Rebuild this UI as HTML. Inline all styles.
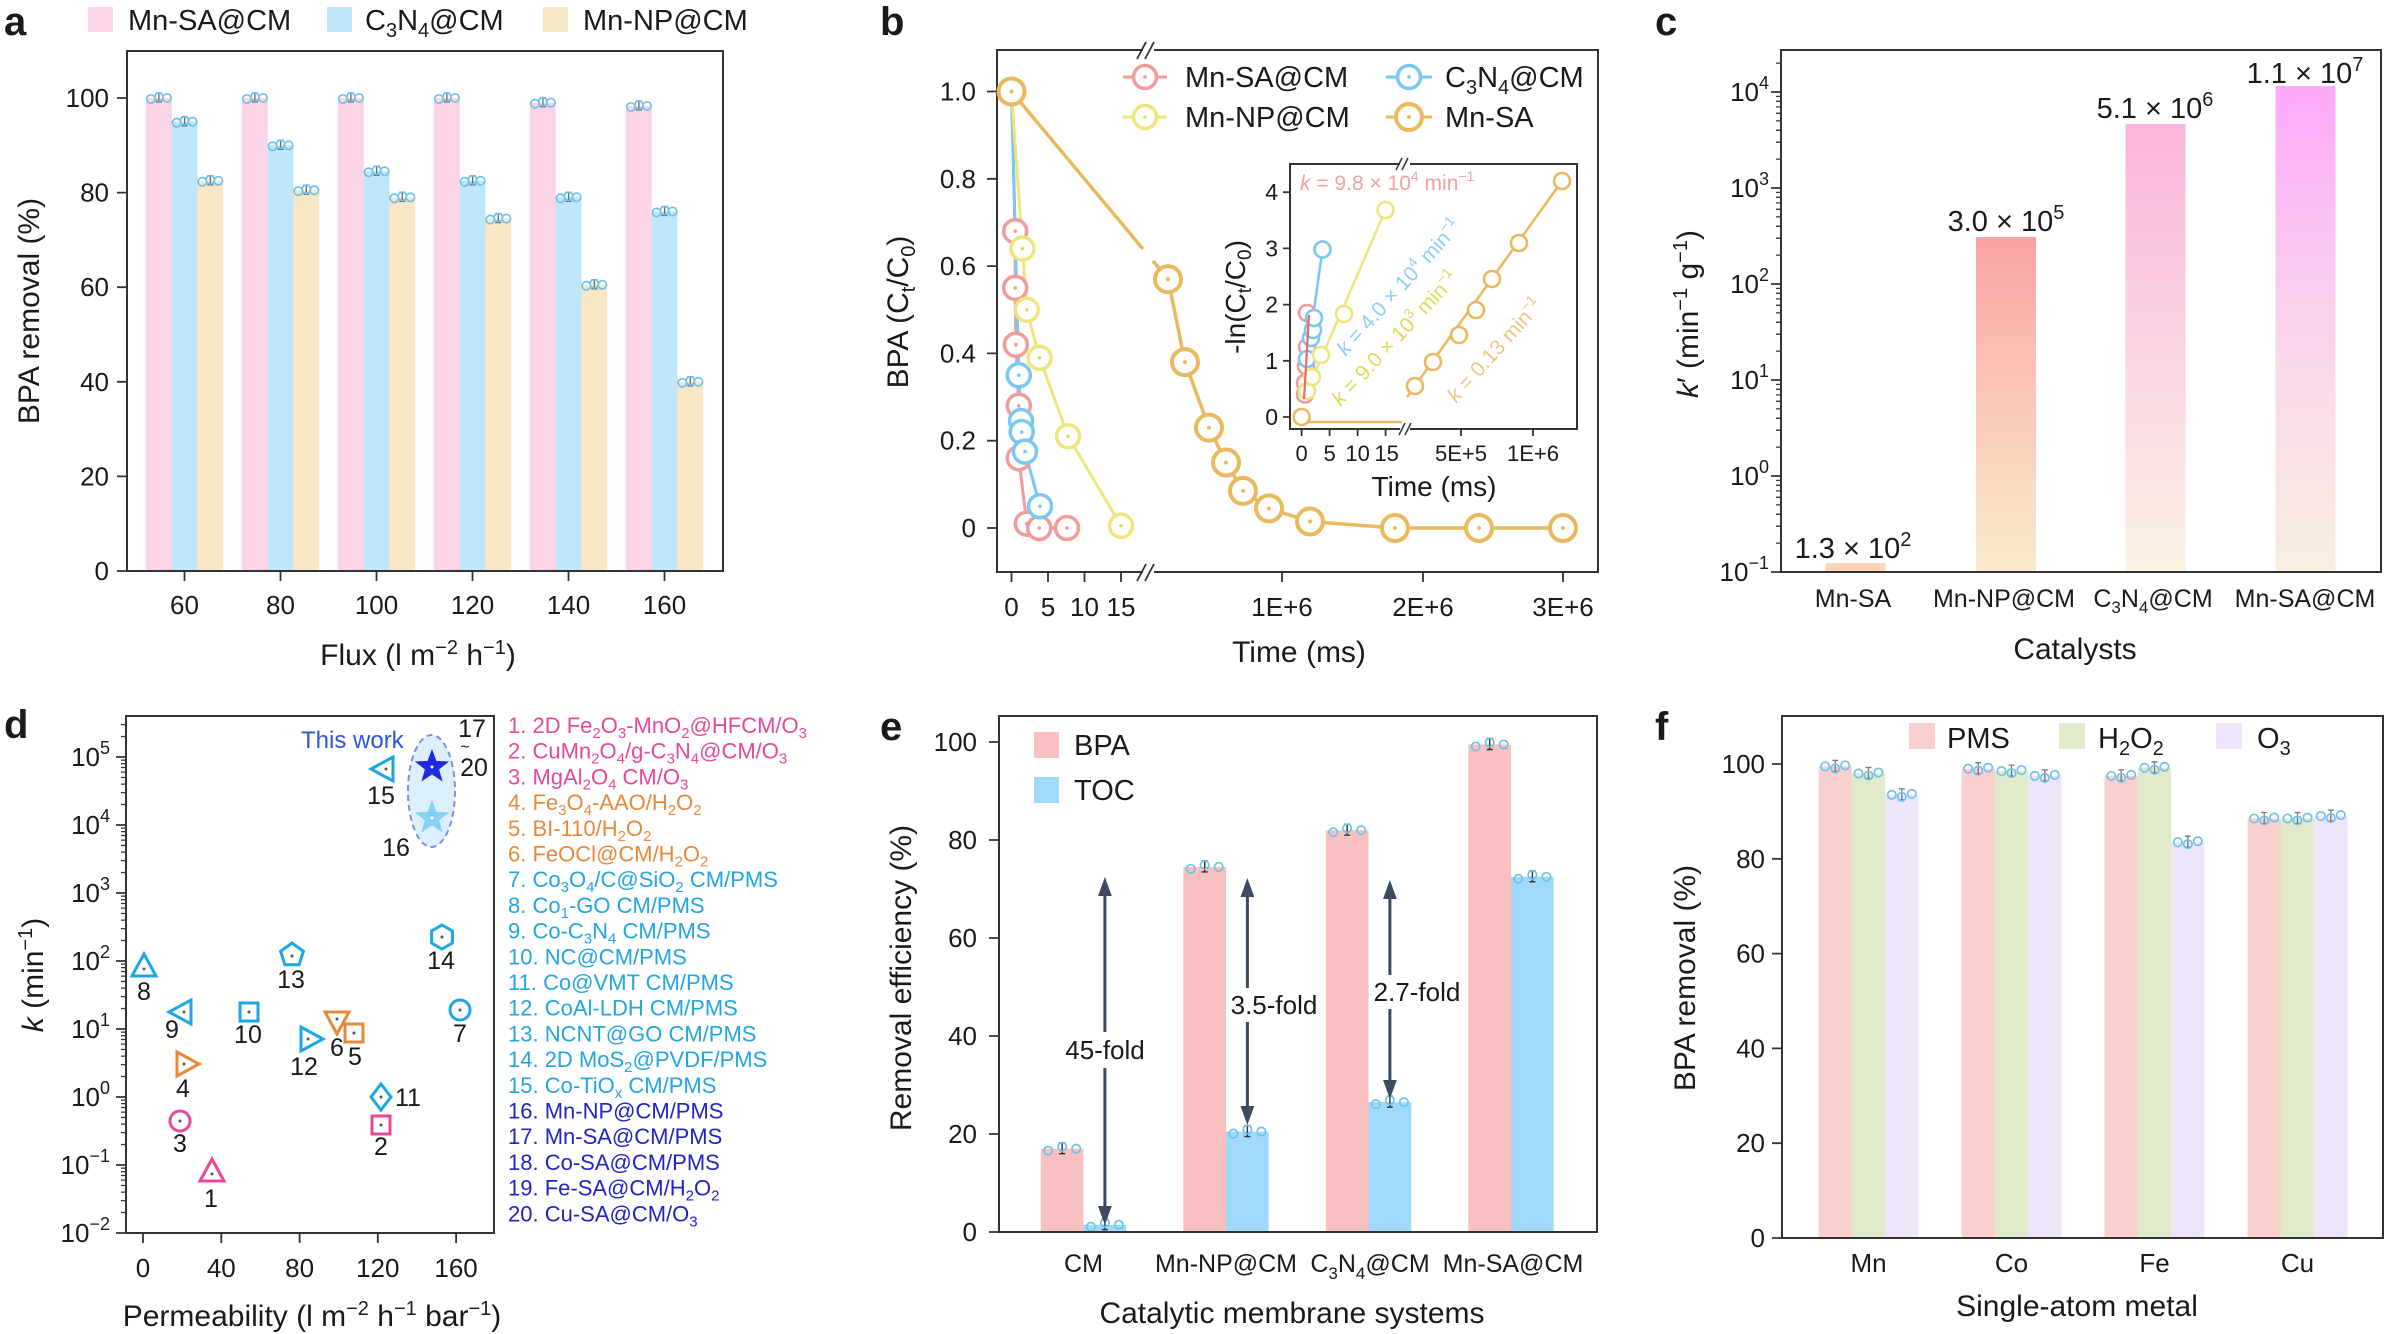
<!DOCTYPE html>
<html><head><meta charset="utf-8">
<style>
html,body{margin:0;padding:0;background:#fff}
svg{display:block}
text{font-family:"Liberation Sans",Arial,sans-serif;fill:#1a1a1a}
.t{font-size:26px}
.ti{font-size:30px}
.lg{font-size:29px}
.pl{font-size:40px;font-weight:bold}
.ax{fill:none;stroke:#333;stroke-width:2}
.tk{fill:none;stroke:#333;stroke-width:1.8}
</style></head><body>
<svg width="2394" height="1334" viewBox="0 0 2394 1334" xmlns="http://www.w3.org/2000/svg">
<defs>
<g id="da" fill="none" stroke="#6DC2EE" stroke-width="1.7"><path d="M0,-5V4M-3,-5H3M-3,4H3" stroke="#666" stroke-width="1.3"/><circle cx="-8" cy="1" r="4.2"/><circle cx="0" cy="-1" r="4.2"/><circle cx="8" cy="0" r="4.2"/></g>
<g id="de" fill="none" stroke="#6DC2EE" stroke-width="1.7"><path d="M0,-6V5M-3,-6H3M-3,5H3" stroke="#333" stroke-width="1.4"/><circle cx="-14" cy="2" r="4.2"/><circle cx="0" cy="-2" r="4.2"/><circle cx="14" cy="0" r="4.2"/></g>
<g id="df" fill="none" stroke="#6DC2EE" stroke-width="1.7"><path d="M0,-6V5M-3,-6H3M-3,5H3" stroke="#777" stroke-width="1.3"/><circle cx="-10" cy="0" r="4.2"/><circle cx="0" cy="2" r="4.2"/><circle cx="10" cy="-1" r="4.2"/></g>
<g id="mR"><circle r="11.5" fill="#fff" stroke="#F39A9A" stroke-width="3.5"/><circle r="1.8" fill="#F39A9A"/></g>
<g id="mB"><circle r="11.5" fill="#fff" stroke="#78C8F2" stroke-width="3.5"/><circle r="1.8" fill="#78C8F2"/></g>
<g id="mY"><circle r="11.5" fill="#fff" stroke="#EFE57F" stroke-width="3.5"/><circle r="1.8" fill="#E2D660"/></g>
<g id="mG"><circle r="13" fill="#fff" stroke="#EAB95E" stroke-width="4"/><circle r="2" fill="#EAB95E"/></g>
<g id="iR"><circle r="8" fill="#fff" stroke="#F39A9A" stroke-width="2.6"/></g>
<g id="iB"><circle r="8" fill="#fff" stroke="#78C8F2" stroke-width="2.6"/></g>
<g id="iY"><circle r="8" fill="#fff" stroke="#EFE57F" stroke-width="2.6"/></g>
<g id="iG"><circle r="8" fill="#fff" stroke="#EAB95E" stroke-width="2.6"/></g>
<linearGradient id="g1" x1="0" y1="0" x2="0" y2="1"><stop offset="0" stop-color="#F9A2A2"/><stop offset="0.4" stop-color="#FBC2B4"/><stop offset="1" stop-color="#F8EBC9"/></linearGradient>
<linearGradient id="g2" x1="0" y1="0" x2="0" y2="1"><stop offset="0" stop-color="#FAB4DC"/><stop offset="0.5" stop-color="#FAD3E2"/><stop offset="1" stop-color="#FAF2E2"/></linearGradient>
<linearGradient id="g3" x1="0" y1="0" x2="0" y2="1"><stop offset="0" stop-color="#FCA8F9"/><stop offset="0.45" stop-color="#F9D0EE"/><stop offset="1" stop-color="#F9EFE0"/></linearGradient>
</defs>

<!-- ================= PANEL A ================= -->
<text class="pl" x="4" y="35">a</text>
<rect x="88" y="7" width="25" height="25" fill="#FDD3E8"/>
<text class="lg" x="128" y="30">Mn-SA@CM</text>
<rect x="327" y="7" width="25" height="25" fill="#BFE6FB"/>
<text class="lg" x="365" y="30">C<tspan dy="7" font-size="20">3</tspan><tspan dy="-7">N</tspan><tspan dy="7" font-size="20">4</tspan><tspan dy="-7">@CM</tspan></text>
<rect x="543" y="7" width="25" height="25" fill="#F6E7C6"/>
<text class="lg" x="583" y="30">Mn-NP@CM</text>
<g fill="#FDD3E8">
<rect x="146" y="98" width="25.8" height="473"/><rect x="242" y="98" width="25.8" height="473"/><rect x="338" y="98" width="25.8" height="473"/><rect x="434" y="98" width="25.8" height="473"/><rect x="530" y="102.7" width="25.8" height="468.3"/><rect x="626" y="106" width="25.8" height="465"/>
</g>
<g fill="#BFE6FB">
<rect x="171.7" y="121.7" width="25.8" height="449.3"/><rect x="267.7" y="145.3" width="25.8" height="425.7"/><rect x="363.7" y="171.3" width="25.8" height="399.7"/><rect x="459.7" y="180.8" width="25.8" height="390.2"/><rect x="555.7" y="197.3" width="25.8" height="373.7"/><rect x="651.7" y="211.5" width="25.8" height="359.5"/>
</g>
<g fill="#F6E7C6">
<rect x="197.4" y="180.8" width="25.8" height="390.2"/><rect x="293.4" y="190.2" width="25.8" height="380.8"/><rect x="389.4" y="197.3" width="25.8" height="373.7"/><rect x="485.4" y="218.6" width="25.8" height="352.4"/><rect x="581.4" y="284.8" width="25.8" height="286.2"/><rect x="677.4" y="381.8" width="25.8" height="189.2"/>
</g>
<use href="#da" x="158.9" y="98"/><use href="#da" x="254.9" y="98"/><use href="#da" x="350.9" y="98"/><use href="#da" x="446.9" y="98"/><use href="#da" x="542.9" y="102.7"/><use href="#da" x="638.9" y="106"/>
<use href="#da" x="184.6" y="121.7"/><use href="#da" x="280.6" y="145.3"/><use href="#da" x="376.6" y="171.3"/><use href="#da" x="472.6" y="180.8"/><use href="#da" x="568.6" y="197.3"/><use href="#da" x="664.6" y="211.5"/>
<use href="#da" x="210.3" y="180.8"/><use href="#da" x="306.3" y="190.2"/><use href="#da" x="402.3" y="197.3"/><use href="#da" x="498.3" y="218.6"/><use href="#da" x="594.3" y="284.8"/><use href="#da" x="690.3" y="381.8"/>
<rect class="ax" x="127" y="51" width="596" height="520"/>
<path class="tk" d="M117,571H127M117,476.4H127M117,381.8H127M117,287.2H127M117,192.6H127M117,98H127M184.5,571V581M280.5,571V581M376.5,571V581M472.5,571V581M568.5,571V581M664.5,571V581"/>
<g class="t" text-anchor="end">
<text x="109" y="580">0</text><text x="109" y="485.4">20</text><text x="109" y="390.8">40</text><text x="109" y="296.2">60</text><text x="109" y="201.6">80</text><text x="109" y="107">100</text>
</g>
<g class="t" text-anchor="middle">
<text x="184.5" y="614">60</text><text x="280.5" y="614">80</text><text x="376.5" y="614">100</text><text x="472.5" y="614">120</text><text x="568.5" y="614">140</text><text x="664.5" y="614">160</text>
</g>
<text class="ti" text-anchor="middle" transform="translate(39,311) rotate(-90)">BPA removal (%)</text>
<text class="ti" text-anchor="middle" x="418" y="665">Flux (l m<tspan dy="-11" font-size="20">−2</tspan><tspan dy="11"> h</tspan><tspan dy="-11" font-size="20">−1</tspan><tspan dy="11">)</tspan></text>

<!-- ================= PANEL B ================= -->
<text class="pl" x="880" y="35">b</text>
<rect class="ax" x="997" y="50" width="601" height="522"/>
<rect x="1143" y="44" width="11" height="12" fill="#fff"/>
<rect x="1143" y="566" width="11" height="12" fill="#fff"/>
<path d="M1137,59L1146,42M1145,59L1154,42M1137,581L1146,564M1145,581L1154,564" stroke="#333" stroke-width="1.8" fill="none"/>
<path class="tk" d="M987,528H997M987,440.7H997M987,353.4H997M987,266.1H997M987,178.8H997M987,91.5H997M1011.5,572V582M1048,572V582M1084.5,572V582M1121,572V582M1282,572V582M1423,572V582M1563,572V582"/>
<g class="t" text-anchor="end">
<text x="976" y="537">0</text><text x="976" y="449.7">0.2</text><text x="976" y="362.4">0.4</text><text x="976" y="275.1">0.6</text><text x="976" y="187.8">0.8</text><text x="976" y="100.5">1.0</text>
</g>
<g class="t" text-anchor="middle">
<text x="1011.5" y="616">0</text><text x="1048" y="616">5</text><text x="1084.5" y="616">10</text><text x="1121" y="616">15</text><text x="1282" y="616">1E+6</text><text x="1423" y="616">2E+6</text><text x="1563" y="616">3E+6</text>
</g>
<text class="ti" text-anchor="middle" x="1299" y="662">Time (ms)</text>
<text class="ti" text-anchor="middle" transform="translate(908,312) rotate(-90)">BPA (C<tspan dy="7" font-size="20">t</tspan><tspan dy="-7">/C</tspan><tspan dy="7" font-size="20">0</tspan><tspan dy="-7">)</tspan></text>
<polyline fill="none" stroke="#F39A9A" stroke-width="3" points="1011.5,91.5 1015.2,231.2 1015.2,287.9 1015.9,344.7 1018.8,405.8 1018.8,458.2 1026.8,523.6 1039.2,528 1067,528"/>
<polyline fill="none" stroke="#78C8F2" stroke-width="3" points="1011.5,91.5 1018.8,375.2 1021,421 1021.7,432 1025,451.6 1040,506.2"/>
<polyline fill="none" stroke="#EFE57F" stroke-width="3" points="1011.5,91.5 1022.5,248.6 1026.8,309.8 1039.6,357.8 1068.1,436.3 1121,525.8"/>
<polyline fill="none" stroke="#EAB95E" stroke-width="3.5" points="1011.5,91.5 1143,249"/>
<polyline fill="none" stroke="#EAB95E" stroke-width="3.5" points="1153,261 1168,279.2 1185,362.1 1209,427.6 1226,462.5 1243,490.9 1269,508.4 1310,521.5 1395,528 1479,528 1563,528"/>
<use href="#mR" x="1015.2" y="231.2"/><use href="#mR" x="1015.2" y="287.9"/><use href="#mR" x="1015.9" y="344.7"/><use href="#mR" x="1018.8" y="405.8"/><use href="#mR" x="1018.8" y="458.2"/><use href="#mR" x="1026.8" y="523.6"/><use href="#mR" x="1039.2" y="528"/><use href="#mR" x="1067" y="528"/>
<use href="#mB" x="1018.8" y="375.2"/><use href="#mB" x="1021" y="421"/><use href="#mB" x="1021.7" y="432"/><use href="#mB" x="1025" y="451.6"/><use href="#mB" x="1040" y="506.2"/>
<use href="#mY" x="1022.5" y="248.6"/><use href="#mY" x="1026.8" y="309.8"/><use href="#mY" x="1039.6" y="357.8"/><use href="#mY" x="1068.1" y="436.3"/><use href="#mY" x="1121" y="525.8"/>
<use href="#mG" x="1011.5" y="91.5"/><use href="#mG" x="1168" y="279.2"/><use href="#mG" x="1185" y="362.1"/><use href="#mG" x="1209" y="427.6"/><use href="#mG" x="1226" y="462.5"/><use href="#mG" x="1243" y="490.9"/><use href="#mG" x="1269" y="508.4"/><use href="#mG" x="1310" y="521.5"/><use href="#mG" x="1395" y="528"/><use href="#mG" x="1479" y="528"/><use href="#mG" x="1563" y="528"/>
<path d="M1123,77H1167" stroke="#F39A9A" stroke-width="3"/><use href="#mR" x="1145" y="77"/>
<text class="lg" x="1185" y="87">Mn-SA@CM</text>
<path d="M1386,77H1432" stroke="#78C8F2" stroke-width="3"/><use href="#mB" x="1409" y="77"/>
<text class="lg" x="1445" y="87">C<tspan dy="7" font-size="20">3</tspan><tspan dy="-7">N</tspan><tspan dy="7" font-size="20">4</tspan><tspan dy="-7">@CM</tspan></text>
<path d="M1123,117H1167" stroke="#EFE57F" stroke-width="3"/><use href="#mY" x="1145" y="117"/>
<text class="lg" x="1185" y="127">Mn-NP@CM</text>
<path d="M1386,117H1432" stroke="#EAB95E" stroke-width="3"/><use href="#mG" x="1409" y="117"/>
<text class="lg" x="1445" y="127">Mn-SA</text>
<!-- inset -->
<rect x="1290" y="164" width="287" height="265" fill="#fff" stroke="#333" stroke-width="2"/>
<rect x="1400" y="160" width="10" height="8" fill="#fff"/>
<rect x="1400" y="425" width="10" height="8" fill="#fff"/>
<path d="M1396,170L1402,158M1402,170L1408,158M1399,435L1405,423M1405,435L1411,423" stroke="#333" stroke-width="1.5" fill="none"/>
<path class="tk" d="M1283,417H1290M1283,360.8H1290M1283,304.6H1290M1283,248.4H1290M1283,192.2H1290M1301.6,429V436M1329.6,429V436M1357.6,429V436M1385.6,429V436M1461,429V436M1533,429V436"/>
<g font-size="23" text-anchor="end">
<text x="1278" y="425">0</text><text x="1278" y="368.8">1</text><text x="1278" y="312.6">2</text><text x="1278" y="256.4">3</text><text x="1278" y="200.2">4</text>
</g>
<g font-size="22" text-anchor="middle">
<text x="1301.6" y="461">0</text><text x="1329.6" y="461">5</text><text x="1357.6" y="461">10</text><text x="1386.6" y="461">15</text><text x="1461" y="461">5E+5</text><text x="1533" y="461">1E+6</text>
</g>
<text font-size="28" text-anchor="middle" x="1434" y="496">Time (ms)</text>
<text font-size="28" text-anchor="middle" transform="translate(1245,297) rotate(-90)">-ln(C<tspan dy="6" font-size="19">t</tspan><tspan dy="-6">/C</tspan><tspan dy="6" font-size="19">0</tspan><tspan dy="-6">)</tspan></text>
<path d="M1301,422H1402" stroke="#EAB95E" stroke-width="2.6"/>
<path d="M1407,397L1562,181" stroke="#EAB95E" stroke-width="2.6"/>
<path d="M1307,391L1385.5,210" stroke="#EFE57F" stroke-width="2.6"/>
<path d="M1307,359L1322.5,249.5" stroke="#78C8F2" stroke-width="2.6"/>
<use href="#iG" x="1301.6" y="417"/>
<use href="#iR" x="1305" y="394.5"/><use href="#iR" x="1305" y="383"/><use href="#iR" x="1306" y="366"/><use href="#iR" x="1307" y="347"/><use href="#iR" x="1307" y="313"/>
<use href="#iB" x="1307" y="359"/><use href="#iB" x="1311" y="338"/><use href="#iB" x="1313" y="330"/><use href="#iB" x="1314" y="318"/><use href="#iB" x="1322.5" y="249.5"/>
<use href="#iY" x="1307" y="391"/><use href="#iY" x="1312" y="377"/><use href="#iY" x="1321" y="355"/><use href="#iY" x="1344" y="314"/><use href="#iY" x="1385.5" y="210"/>
<path d="M1304,399L1309,315" stroke="#E86A6A" stroke-width="2.2"/>
<use href="#iG" x="1415" y="386"/><use href="#iG" x="1433" y="362"/><use href="#iG" x="1459" y="335"/><use href="#iG" x="1476" y="310"/><use href="#iG" x="1492" y="279"/><use href="#iG" x="1519" y="243"/><use href="#iG" x="1562" y="181"/>
<text font-size="21" x="1300" y="190" style="fill:#F2A0A0"><tspan font-style="italic">k</tspan> = 9.8 × 10<tspan dy="-9" font-size="14">4</tspan><tspan dy="9"> min</tspan><tspan dy="-9" font-size="14">−1</tspan></text>
<text font-size="21" text-anchor="middle" transform="translate(1404,292) rotate(-48)" style="fill:#8CCFF2"><tspan font-style="italic">k</tspan> = 4.0 × 10<tspan dy="-9" font-size="14">4</tspan><tspan dy="9"> min</tspan><tspan dy="-9" font-size="14">−1</tspan></text>
<text font-size="21" text-anchor="middle" transform="translate(1400,343) rotate(-47)" style="fill:#E0D955"><tspan font-style="italic">k</tspan> = 9.0 × 10<tspan dy="-9" font-size="14">3</tspan><tspan dy="9"> min</tspan><tspan dy="-9" font-size="14">−1</tspan></text>
<text font-size="21" text-anchor="middle" transform="translate(1500,355) rotate(-48)" style="fill:#EDC580"><tspan font-style="italic">k</tspan> = 0.13 min<tspan dy="-9" font-size="14">−1</tspan></text>

<!-- ================= PANEL C ================= -->
<text class="pl" x="1655" y="35">c</text>
<rect x="1825.5" y="563" width="60" height="9" fill="#F9D4B8"/>
<rect x="1976" y="237" width="60" height="335" fill="url(#g1)"/>
<rect x="2125.5" y="124" width="60" height="448" fill="url(#g2)"/>
<rect x="2275.5" y="86" width="60" height="486" fill="url(#g3)"/>
<rect class="ax" x="1781" y="50" width="600" height="522"/>
<path class="tk" d="M1771,572H1781M1771,476H1781M1771,380H1781M1771,284H1781M1771,188H1781M1771,92H1781"/>
<path fill="none" stroke="#333" stroke-width="1.3" d="M1776,543.1H1781M1776,526.2H1781M1776,514.2H1781M1776,504.9H1781M1776,497.3H1781M1776,490.9H1781M1776,485.3H1781M1776,480.4H1781M1776,447.1H1781M1776,430.2H1781M1776,418.2H1781M1776,408.9H1781M1776,401.3H1781M1776,394.9H1781M1776,389.3H1781M1776,384.4H1781M1776,351.1H1781M1776,334.2H1781M1776,322.2H1781M1776,312.9H1781M1776,305.3H1781M1776,298.9H1781M1776,293.3H1781M1776,288.4H1781M1776,255.1H1781M1776,238.2H1781M1776,226.2H1781M1776,216.9H1781M1776,209.3H1781M1776,202.9H1781M1776,197.3H1781M1776,192.4H1781M1776,159.1H1781M1776,142.2H1781M1776,130.2H1781M1776,120.9H1781M1776,113.3H1781M1776,106.9H1781M1776,101.3H1781M1776,96.4H1781M1776,63.1H1781"/>
<g class="t" text-anchor="end">
<text x="1769" y="581">10<tspan dy="-12" font-size="18">−1</tspan></text>
<text x="1769" y="485">10<tspan dy="-12" font-size="18">0</tspan></text>
<text x="1769" y="389">10<tspan dy="-12" font-size="18">1</tspan></text>
<text x="1769" y="293">10<tspan dy="-12" font-size="18">2</tspan></text>
<text x="1769" y="197">10<tspan dy="-12" font-size="18">3</tspan></text>
<text x="1769" y="101">10<tspan dy="-12" font-size="18">4</tspan></text>
</g>
<g font-size="29" text-anchor="middle">
<text x="1853" y="558">1.3 × 10<tspan dy="-12" font-size="20">2</tspan></text>
<text x="2006" y="231">3.0 × 10<tspan dy="-12" font-size="20">5</tspan></text>
<text x="2155" y="118">5.1 × 10<tspan dy="-12" font-size="20">6</tspan></text>
<text x="2305" y="83">1.1 × 10<tspan dy="-12" font-size="20">7</tspan></text>
</g>
<g font-size="25" text-anchor="middle">
<text x="1853" y="607">Mn-SA</text>
<text x="2004" y="607">Mn-NP@CM</text>
<text x="2153" y="607">C<tspan dy="6" font-size="17">3</tspan><tspan dy="-6">N</tspan><tspan dy="6" font-size="17">4</tspan><tspan dy="-6">@CM</tspan></text>
<text x="2305" y="607">Mn-SA@CM</text>
</g>
<text class="ti" text-anchor="middle" x="2075" y="659">Catalysts</text>
<text class="ti" text-anchor="middle" transform="translate(1698,314) rotate(-90)"><tspan font-style="italic">k</tspan>′ (min<tspan dy="-11" font-size="20">−1</tspan><tspan dy="11"> g</tspan><tspan dy="-11" font-size="20">−1</tspan><tspan dy="11">)</tspan></text>

<!-- ================= PANEL D ================= -->
<text class="pl" x="4" y="738">d</text>
<ellipse cx="431.5" cy="791" rx="23.5" ry="56" fill="#DCEFFC" stroke="#7E8EE0" stroke-width="2" stroke-dasharray="6,4"/>
<rect class="ax" x="126" y="716" width="368" height="517"/>
<path class="tk" d="M116,1233H126M116,1165H126M116,1097H126M116,1029H126M116,961H126M116,893H126M116,825H126M116,757H126M143,1233V1243M221.3,1233V1243M299.6,1233V1243M377.8,1233V1243M456.1,1233V1243"/>
<path fill="none" stroke="#333" stroke-width="1.3" d="M121,1212.5H126M121,1200.6H126M121,1192.1H126M121,1185.5H126M121,1180.1H126M121,1175.5H126M121,1171.6H126M121,1168.1H126M121,1144.5H126M121,1132.6H126M121,1124.1H126M121,1117.5H126M121,1112.1H126M121,1107.5H126M121,1103.6H126M121,1100.1H126M121,1076.5H126M121,1064.6H126M121,1056.1H126M121,1049.5H126M121,1044.1H126M121,1039.5H126M121,1035.6H126M121,1032.1H126M121,1008.5H126M121,996.6H126M121,988.1H126M121,981.5H126M121,976.1H126M121,971.5H126M121,967.6H126M121,964.1H126M121,940.5H126M121,928.6H126M121,920.1H126M121,913.5H126M121,908.1H126M121,903.5H126M121,899.6H126M121,896.1H126M121,872.5H126M121,860.6H126M121,852.1H126M121,845.5H126M121,840.1H126M121,835.5H126M121,831.6H126M121,828.1H126M121,804.5H126M121,792.6H126M121,784.1H126M121,777.5H126M121,772.1H126M121,767.5H126M121,763.6H126M121,760.1H126M121,736.5H126M121,724.6H126"/>
<g class="t" text-anchor="end">
<text x="110" y="1242">10<tspan dy="-12" font-size="18">−2</tspan></text>
<text x="110" y="1174">10<tspan dy="-12" font-size="18">−1</tspan></text>
<text x="110" y="1106">10<tspan dy="-12" font-size="18">0</tspan></text>
<text x="110" y="1038">10<tspan dy="-12" font-size="18">1</tspan></text>
<text x="110" y="970">10<tspan dy="-12" font-size="18">2</tspan></text>
<text x="110" y="902">10<tspan dy="-12" font-size="18">3</tspan></text>
<text x="110" y="834">10<tspan dy="-12" font-size="18">4</tspan></text>
<text x="110" y="766">10<tspan dy="-12" font-size="18">5</tspan></text>
</g>
<g class="t" text-anchor="middle">
<text x="143" y="1277">0</text><text x="221.3" y="1277">40</text><text x="299.6" y="1277">80</text><text x="377.8" y="1277">120</text><text x="456.1" y="1277">160</text>
</g>
<text class="ti" text-anchor="middle" x="312" y="1326">Permeability (l m<tspan dy="-11" font-size="20">−2</tspan><tspan dy="11"> h</tspan><tspan dy="-11" font-size="20">−1</tspan><tspan dy="11"> bar</tspan><tspan dy="-11" font-size="20">−1</tspan><tspan dy="11">)</tspan></text>
<text class="ti" text-anchor="middle" transform="translate(43,975) rotate(-90)"><tspan font-style="italic">k</tspan> (min<tspan dy="-11" font-size="20">−1</tspan><tspan dy="11">)</tspan></text>
<g fill="none" stroke-width="3" stroke-linejoin="miter">
<polygon transform="translate(212,1172)" points="0,-13 12,9 -12,9" stroke="#E8489A"/>
<rect x="372" y="1116" width="18" height="18" stroke="#E8489A"/>
<circle cx="180" cy="1121" r="10" stroke="#E8489A"/>
<polygon transform="translate(186,1064)" points="13,0 -9,-12 -9,12" stroke="#E8893A"/>
<rect x="345" y="1024" width="18" height="18" stroke="#E8893A"/>
<polygon transform="translate(337,1021)" points="0,13 12,-9 -12,-9" stroke="#E8893A"/>
<circle cx="460" cy="1010" r="10" stroke="#1EA5E6"/>
<polygon transform="translate(144,967)" points="0,-13 12,9 -12,9" stroke="#1EA5E6"/>
<polygon transform="translate(182,1012)" points="-13,0 9,-12 9,12" stroke="#1EA5E6"/>
<rect x="240" y="1003" width="18" height="18" stroke="#1EA5E6"/>
<polygon transform="translate(381,1097)" points="0,-13 10,0 0,13 -10,0" stroke="#1EA5E6"/>
<polygon transform="translate(310,1039)" points="13,0 -9,-12 -9,12" stroke="#1EA5E6"/>
<polygon transform="translate(292,955)" points="0,-12 11.4,-3.7 7.1,9.7 -7.1,9.7 -11.4,-3.7" stroke="#1EA5E6"/>
<polygon transform="translate(442,937)" points="0,-12 10.4,-6 10.4,6 0,12 -10.4,6 -10.4,-6" stroke="#1EA5E6"/>
<polygon transform="translate(384,769)" points="-13,0 9,-12 9,12" stroke="#1EA5E6"/>
</g>
<polygon transform="translate(432,818)" points="0,-18 4.41,-6.07 17.12,-5.56 7.13,2.32 10.58,14.56 0,7.5 -10.58,14.56 -7.13,2.32 -17.12,-5.56 -4.41,-6.07" fill="#86CFF6"/>
<polygon transform="translate(432,767)" points="0,-18 4.41,-6.07 17.12,-5.56 7.13,2.32 10.58,14.56 0,7.5 -10.58,14.56 -7.13,2.32 -17.12,-5.56 -4.41,-6.07" fill="#1F2BE0"/>
<g fill="#555">
<circle cx="212" cy="1174" r="1.5"/><circle cx="381" cy="1125" r="1.5"/><circle cx="180" cy="1121" r="1.5"/><circle cx="184" cy="1064" r="1.5"/><circle cx="354" cy="1033" r="1.5"/><circle cx="337" cy="1019" r="1.5"/><circle cx="460" cy="1010" r="1.5"/><circle cx="144" cy="969" r="1.5"/><circle cx="184" cy="1012" r="1.5"/><circle cx="249" cy="1012" r="1.5"/><circle cx="381" cy="1097" r="1.5"/><circle cx="308" cy="1039" r="1.5"/><circle cx="292" cy="956" r="1.5"/><circle cx="442" cy="937" r="1.5"/><circle cx="386" cy="769" r="1.5"/>
</g>
<circle cx="432" cy="818" r="1.5" fill="#fff"/><circle cx="432" cy="767" r="1.5" fill="#fff"/>
<g font-size="25" text-anchor="middle">
<text x="211" y="1207">1</text><text x="381" y="1155">2</text><text x="180" y="1152">3</text><text x="183" y="1097">4</text><text x="355" y="1065">5</text><text x="337" y="1056">6</text><text x="460" y="1042">7</text><text x="144" y="1000">8</text><text x="172" y="1038">9</text><text x="248" y="1043">10</text><text x="304" y="1075">12</text><text x="291" y="988">13</text><text x="441" y="969">14</text><text x="381" y="804">15</text><text x="396" y="856">16</text><text x="472" y="737">17</text><text x="474" y="776">20</text>
</g>
<text font-size="25" x="395" y="1106">11</text>
<text font-size="16" text-anchor="middle" x="465" y="752">~</text>
<text font-size="24" x="301" y="748" style="fill:#2F55D4">This work</text>
<g font-size="22">
<text x="508" y="733" style="fill:#E8489A">1. 2D Fe<tspan dy="5" font-size="15">2</tspan><tspan dy="-5">O</tspan><tspan dy="5" font-size="15">3</tspan><tspan dy="-5">-MnO</tspan><tspan dy="5" font-size="15">2</tspan><tspan dy="-5">@HFCM/O</tspan><tspan dy="5" font-size="15">3</tspan></text>
<text x="508" y="758.7" style="fill:#E8489A">2. CuMn<tspan dy="5" font-size="15">2</tspan><tspan dy="-5">O</tspan><tspan dy="5" font-size="15">4</tspan><tspan dy="-5">/g-C</tspan><tspan dy="5" font-size="15">3</tspan><tspan dy="-5">N</tspan><tspan dy="5" font-size="15">4</tspan><tspan dy="-5">@CM/O</tspan><tspan dy="5" font-size="15">3</tspan></text>
<text x="508" y="784.4" style="fill:#E8489A">3. MgAl<tspan dy="5" font-size="15">2</tspan><tspan dy="-5">O</tspan><tspan dy="5" font-size="15">4</tspan><tspan dy="-5"> CM/O</tspan><tspan dy="5" font-size="15">3</tspan></text>
<text x="508" y="810.1" style="fill:#E8893A">4. Fe<tspan dy="5" font-size="15">3</tspan><tspan dy="-5">O</tspan><tspan dy="5" font-size="15">4</tspan><tspan dy="-5">-AAO/H</tspan><tspan dy="5" font-size="15">2</tspan><tspan dy="-5">O</tspan><tspan dy="5" font-size="15">2</tspan></text>
<text x="508" y="835.8" style="fill:#E8893A">5. BI-110/H<tspan dy="5" font-size="15">2</tspan><tspan dy="-5">O</tspan><tspan dy="5" font-size="15">2</tspan></text>
<text x="508" y="861.5" style="fill:#E8893A">6. FeOCl@CM/H<tspan dy="5" font-size="15">2</tspan><tspan dy="-5">O</tspan><tspan dy="5" font-size="15">2</tspan></text>
<text x="508" y="887.2" style="fill:#22A5E3">7. Co<tspan dy="5" font-size="15">3</tspan><tspan dy="-5">O</tspan><tspan dy="5" font-size="15">4</tspan><tspan dy="-5">/C@SiO</tspan><tspan dy="5" font-size="15">2</tspan><tspan dy="-5"> CM/PMS</tspan></text>
<text x="508" y="912.9" style="fill:#22A5E3">8. Co<tspan dy="5" font-size="15">1</tspan><tspan dy="-5">-GO CM/PMS</tspan></text>
<text x="508" y="938.6" style="fill:#22A5E3">9. Co-C<tspan dy="5" font-size="15">3</tspan><tspan dy="-5">N</tspan><tspan dy="5" font-size="15">4</tspan><tspan dy="-5"> CM/PMS</tspan></text>
<text x="508" y="964.3" style="fill:#22A5E3">10. NC@CM/PMS</text>
<text x="508" y="990" style="fill:#22A5E3">11. Co@VMT CM/PMS</text>
<text x="508" y="1015.7" style="fill:#22A5E3">12. CoAl-LDH CM/PMS</text>
<text x="508" y="1041.4" style="fill:#22A5E3">13. NCNT@GO CM/PMS</text>
<text x="508" y="1067.1" style="fill:#22A5E3">14. 2D MoS<tspan dy="5" font-size="15">2</tspan><tspan dy="-5">@PVDF/PMS</tspan></text>
<text x="508" y="1092.8" style="fill:#22A5E3">15. Co-TiO<tspan dy="5" font-size="15">x</tspan><tspan dy="-5"> CM/PMS</tspan></text>
<text x="508" y="1118.5" style="fill:#2323C4">16. Mn-NP@CM/PMS</text>
<text x="508" y="1144.2" style="fill:#2323C4">17. Mn-SA@CM/PMS</text>
<text x="508" y="1169.9" style="fill:#2323C4">18. Co-SA@CM/PMS</text>
<text x="508" y="1195.6" style="fill:#2323C4">19. Fe-SA@CM/H<tspan dy="5" font-size="15">2</tspan><tspan dy="-5">O</tspan><tspan dy="5" font-size="15">2</tspan></text>
<text x="508" y="1221.3" style="fill:#2323C4">20. Cu-SA@CM/O<tspan dy="5" font-size="15">3</tspan></text>
</g>

<!-- ================= PANEL E ================= -->
<text class="pl" x="880" y="740">e</text>
<g fill="#F9C0C0">
<rect x="1040.8" y="1148.7" width="42.7" height="83.3"/><rect x="1183.3" y="866.9" width="42.7" height="365.1"/><rect x="1325.8" y="830.2" width="42.7" height="401.8"/><rect x="1468.3" y="744.5" width="42.7" height="487.5"/>
</g>
<g fill="#A0D9FA">
<rect x="1083.5" y="1224.7" width="42.7" height="7.3"/><rect x="1226" y="1131.6" width="42.7" height="100.4"/><rect x="1368.5" y="1102.2" width="42.7" height="129.8"/><rect x="1511" y="876.8" width="42.7" height="355.2"/>
</g>
<use href="#de" x="1062.2" y="1148.7"/><use href="#de" x="1204.7" y="866.9"/><use href="#de" x="1347.2" y="830.2"/><use href="#de" x="1489.7" y="744.5"/>
<use href="#de" x="1104.9" y="1224.7"/><use href="#de" x="1247.4" y="1131.6"/><use href="#de" x="1389.9" y="1102.2"/><use href="#de" x="1532.4" y="876.8"/>
<rect class="ax" x="999" y="716" width="598" height="516"/>
<path class="tk" d="M989,1232H999M989,1134H999M989,1036H999M989,938H999M989,840H999M989,742H999"/>
<g class="t" text-anchor="end">
<text x="977" y="1241">0</text><text x="977" y="1143">20</text><text x="977" y="1045">40</text><text x="977" y="947">60</text><text x="977" y="849">80</text><text x="977" y="751">100</text>
</g>
<g font-size="25" text-anchor="middle">
<text x="1083.5" y="1272">CM</text><text x="1226" y="1272">Mn-NP@CM</text>
<text x="1370" y="1272">C<tspan dy="7" font-size="17">3</tspan><tspan dy="-7">N</tspan><tspan dy="7" font-size="17">4</tspan><tspan dy="-7">@CM</tspan></text>
<text x="1513" y="1272">Mn-SA@CM</text>
</g>
<text class="ti" text-anchor="middle" x="1292" y="1323">Catalytic membrane systems</text>
<text class="ti" text-anchor="middle" transform="translate(911,978) rotate(-90)">Removal efficiency (%)</text>
<rect x="1034" y="732" width="25" height="26" fill="#F9C0C0"/>
<text class="lg" x="1074" y="755">BPA</text>
<rect x="1034" y="777" width="25" height="26" fill="#A0D9FA"/>
<text class="lg" x="1074" y="800">TOC</text>
<g stroke="#3D4B5E" stroke-width="3" fill="none">
<path d="M1104.9,893V1209"/><path d="M1247.4,894V1109"/><path d="M1389.9,896V1083"/>
</g>
<g fill="#3D4B5E">
<polygon points="1104.9,877 1098,896 1111.8,896"/><polygon points="1104.9,1225 1098,1206 1111.8,1206"/>
<polygon points="1247.4,878 1240.5,897 1254.3,897"/><polygon points="1247.4,1125 1240.5,1106 1254.3,1106"/>
<polygon points="1389.9,880 1383,899 1396.8,899"/><polygon points="1389.9,1099 1383,1080 1396.8,1080"/>
</g>
<rect x="1062" y="1032" width="86" height="36" fill="#fff"/>
<rect x="1228" y="988" width="92" height="34" fill="#fff"/>
<rect x="1371" y="975" width="92" height="34" fill="#fff"/>
<g font-size="26" text-anchor="middle">
<text x="1105" y="1059">45-fold</text><text x="1274" y="1014">3.5-fold</text><text x="1417" y="1001">2.7-fold</text>
</g>

<!-- ================= PANEL F ================= -->
<text class="pl" x="1655" y="740">f</text>
<g fill="#FCCFCF">
<rect x="1818.5" y="766.4" width="33.4" height="471.6"/><rect x="1961.5" y="768.7" width="33.4" height="469.3"/><rect x="2104.5" y="775.9" width="33.4" height="462.1"/><rect x="2247.5" y="818.5" width="33.4" height="419.5"/>
</g>
<g fill="#DFEBCB">
<rect x="1851.8" y="773.5" width="33.4" height="464.5"/><rect x="1994.8" y="771.1" width="33.4" height="466.9"/><rect x="2137.8" y="767.8" width="33.4" height="470.2"/><rect x="2280.8" y="818.5" width="33.4" height="419.5"/>
</g>
<g fill="#EEE5FB">
<rect x="1885.1" y="794.8" width="33.4" height="443.2"/><rect x="2028.1" y="775.9" width="33.4" height="462.1"/><rect x="2171.1" y="842.2" width="33.4" height="395.8"/><rect x="2314.1" y="816.1" width="33.4" height="421.9"/>
</g>
<use href="#df" x="1835.2" y="766.4"/><use href="#df" x="1868.5" y="773.5"/><use href="#df" x="1901.8" y="794.8"/>
<use href="#df" x="1978.2" y="768.7"/><use href="#df" x="2011.5" y="771.1"/><use href="#df" x="2044.8" y="775.9"/>
<use href="#df" x="2121.2" y="775.9"/><use href="#df" x="2154.5" y="767.8"/><use href="#df" x="2187.8" y="842.2"/>
<use href="#df" x="2264.2" y="818.5"/><use href="#df" x="2297.5" y="818.5"/><use href="#df" x="2330.8" y="816.1"/>
<rect class="ax" x="1782" y="716" width="601" height="522"/>
<path class="tk" d="M1772,1238H1782M1772,1143.2H1782M1772,1048.4H1782M1772,953.6H1782M1772,858.8H1782M1772,764H1782"/>
<g class="t" text-anchor="end">
<text x="1765" y="1247">0</text><text x="1765" y="1152.2">20</text><text x="1765" y="1057.4">40</text><text x="1765" y="962.6">60</text><text x="1765" y="867.8">80</text><text x="1765" y="773">100</text>
</g>
<g class="t" text-anchor="middle">
<text x="1868.5" y="1272">Mn</text><text x="2011.5" y="1272">Co</text><text x="2154.5" y="1272">Fe</text><text x="2297.5" y="1272">Cu</text>
</g>
<text class="ti" text-anchor="middle" x="2077" y="1316">Single-atom metal</text>
<text class="ti" text-anchor="middle" transform="translate(1695,978) rotate(-90)">BPA removal (%)</text>
<rect x="1909" y="723" width="26" height="26" fill="#FCCFCF"/>
<text class="lg" x="1947" y="748">PMS</text>
<rect x="2059" y="723" width="26" height="26" fill="#DFEBCB"/>
<text class="lg" x="2098" y="748">H<tspan dy="7" font-size="20">2</tspan><tspan dy="-7">O</tspan><tspan dy="7" font-size="20">2</tspan></text>
<rect x="2216" y="723" width="26" height="26" fill="#EEE5FB"/>
<text class="lg" x="2257" y="748">O<tspan dy="7" font-size="20">3</tspan></text>
</svg>
</body></html>
